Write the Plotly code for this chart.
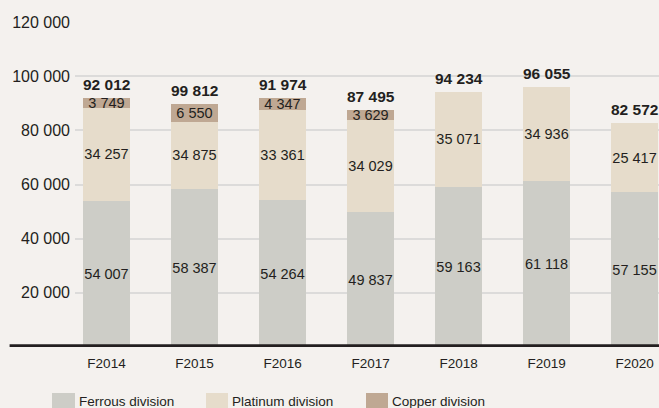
import plotly.graph_objects as go

# Dados
anos = ["F2014", "F2015", "F2016", "F2017", "F2018", "F2019", "F2020"]
ferrous = [54007, 58387, 54264, 49837, 59163, 61118, 57155]
# altura desenhada da barra de platina (F2015 aparece com ~24 875 no original)
platinum = [34257, 24875, 33361, 34029, 35071, 34936, 25417]
platinum_rotulo = [34257, 34875, 33361, 34029, 35071, 34936, 25417]
copper = [3749, 6550, 4347, 3629, None, None, None]
totais = [92012, 99812, 91974, 87495, 94234, 96055, 82572]
y_ticks = [20000, 40000, 60000, 80000, 100000, 120000]

cor_ferrous = "#cdcdc7"
cor_platinum = "#e6dccb"
cor_copper = "#bfa893"
cor_texto = "#231f20"
fundo = "#f4f1ee"
fonte = "Liberation Sans, Arial"


def fmt(v):
    return f"{v:,}".replace(",", " ") if v is not None else ""


fig = go.Figure()
series = [
    ("Ferrous division", ferrous, ferrous, cor_ferrous),
    ("Platinum division", platinum, platinum_rotulo, cor_platinum),
    ("Copper division", copper, copper, cor_copper),
]
for nome, vals, rot, cor in series:
    fig.add_trace(go.Bar(
        x=anos, y=vals, name=nome, marker=dict(color=cor, line=dict(width=0)),
        text=[fmt(v) for v in rot], textposition="inside", textangle=0,
        insidetextanchor="middle", constraintext="none",
        textfont=dict(family=fonte, size=14.5, color=cor_texto),
        hoverinfo="skip",
    ))

# Totais em negrito acima das barras
topos = [f + p + (c or 0) for f, p, c in zip(ferrous, platinum, copper)]
for ano, topo, total in zip(anos, topos, totais):
    fig.add_annotation(
        x=ano, y=topo, text=f"<b>{fmt(total)}</b>", showarrow=False,
        yanchor="bottom", yshift=3,
        font=dict(family=fonte, size=15.5, color=cor_texto),
    )

# Linha de base grossa
fig.add_shape(type="line", xref="paper", yref="y", x0=-0.112, x1=1, y0=0, y1=0,
              line=dict(color=cor_texto, width=5.5))

# Legenda manual (posições em pixels)
L, W, T, H = 75, 584, 22, 325
legenda = [("Ferrous division", cor_ferrous, 52, 75),
           ("Platinum division", cor_platinum, 206, 228),
           ("Copper division", cor_copper, 366, 388)]
for nome, cor, x0, x1 in legenda:
    fig.add_shape(type="rect", xref="paper", yref="paper",
                  x0=(x0 - L) / W, x1=(x1 - L) / W,
                  y0=(T + H - 393) / H, y1=(T + H - 410) / H,
                  line=dict(width=0), fillcolor=cor)
    fig.add_annotation(xref="paper", yref="paper", x=(x1 + 2 - L) / W,
                       y=(T + H - 401) / H, text=nome, showarrow=False,
                       xanchor="left", yanchor="middle",
                       font=dict(family=fonte, size=13.5, color=cor_texto))

fig.update_layout(
    barmode="stack",
    bargap=0.466,
    width=659, height=408,
    margin=dict(l=L, r=0, t=T, b=408 - T - H),
    paper_bgcolor=fundo, plot_bgcolor=fundo,
    showlegend=False,
    hovermode=False,
    uniformtext=dict(minsize=14, mode="show"),
    xaxis=dict(range=[-0.358, 6.278], showgrid=False, zeroline=False,
               showline=False, ticks="", ticklabelstandoff=6,
               tickfont=dict(family=fonte, size=13.5, color=cor_texto)),
    yaxis=dict(range=[0, 120000], tickvals=y_ticks,
               ticktext=[fmt(v) for v in y_ticks],
               showgrid=True, gridcolor="#dcdbda", gridwidth=2,
               zeroline=False, showline=False, ticks="", ticklabelstandoff=4,
               tickfont=dict(family=fonte, size=16, color=cor_texto)),
)

# sem margem da página, para a figura ocupar a janela inteira
fig.write_html("out.html", config={"displayModeBar": False}, post_script=(
    "document.body.style.margin='0';"
    "document.body.style.overflow='hidden';"))
